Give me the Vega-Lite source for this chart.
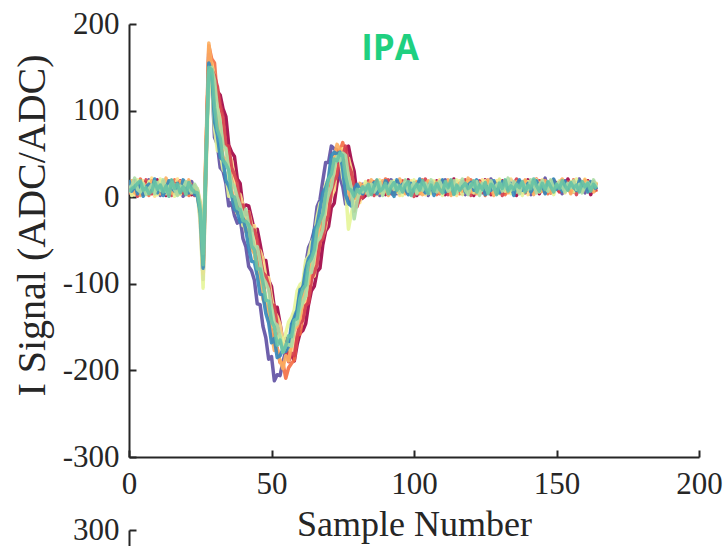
{
"$schema":"https://vega.github.io/schema/vega-lite/v6.json",
"padding":{"left":11,"top":8,"right":0,"bottom":0},
"bounds":"flush",
"spacing":73,
"config":{"view":{"stroke":null},"font":"Liberation Serif",
"axis":{"labelFont":"Liberation Serif","titleFont":"Liberation Serif","labelFontSize":31,"titleFontWeight":"normal","labelColor":"#262626","titleColor":"#262626","domainColor":"#262626","domainWidth":2,"tickColor":"#262626","tickWidth":2,"tickSize":-7,"grid":false,"labelFlush":false,"labelOverlap":false,"labelExpr":"replace(datum.label, '\u2212', '-')"}},
"vconcat":[
{"width":570,"height":433,
"layer":[
{"data":{"values":[
{"x":0,"a":12,"b":5,"c":18,"d":9,"e":3,"f":14,"g":8,"h":20,"i":11,"j":6},
{"x":1,"a":8,"b":15,"c":4,"d":17,"e":12,"f":2,"g":19,"h":7,"i":13,"j":10},
{"x":2,"a":19,"b":9,"c":11,"d":3,"e":16,"f":8,"g":5,"h":14,"i":22,"j":12},
{"x":3,"a":6,"b":18,"c":14,"d":11,"e":1,"f":20,"g":13,"h":4,"i":9,"j":16},
{"x":4,"a":14,"b":3,"c":21,"d":8,"e":13,"f":10,"g":2,"h":17,"i":6,"j":19},
{"x":5,"a":3,"b":12,"c":7,"d":19,"e":9,"f":16,"g":11,"h":1,"i":15,"j":8},
{"x":6,"a":17,"b":8,"c":10,"d":5,"e":20,"f":4,"g":14,"h":12,"i":3,"j":11},
{"x":7,"a":9,"b":20,"c":2,"d":13,"e":7,"f":18,"g":6,"h":15,"i":10,"j":4},
{"x":8,"a":11,"b":6,"c":16,"d":22,"e":4,"f":12,"g":19,"h":8,"i":14,"j":7},
{"x":9,"a":5,"b":14,"c":9,"d":1,"e":15,"f":7,"g":10,"h":21,"i":4,"j":18},
{"x":10,"a":20,"b":10,"c":13,"d":7,"e":11,"f":3,"g":16,"h":5,"i":17,"j":9},
{"x":11,"a":7,"b":2,"c":19,"d":15,"e":6,"f":21,"g":4,"h":13,"i":8,"j":14},
{"x":12,"a":13,"b":17,"c":5,"d":10,"e":18,"f":9,"g":12,"h":2,"i":20,"j":6},
{"x":13,"a":2,"b":11,"c":15,"d":4,"e":8,"f":14,"g":22,"h":10,"i":7,"j":13},
{"x":14,"a":16,"b":7,"c":3,"d":18,"e":14,"f":6,"g":9,"h":19,"i":12,"j":1},
{"x":15,"a":10,"b":19,"c":12,"d":6,"e":2,"f":17,"g":5,"h":11,"i":16,"j":20},
{"x":16,"a":4,"b":13,"c":20,"d":12,"e":16,"f":1,"g":15,"h":7,"i":9,"j":10},
{"x":17,"a":18,"b":5,"c":8,"d":21,"e":10,"f":13,"g":3,"h":16,"i":2,"j":15},
{"x":18,"a":8,"b":16,"c":14,"d":3,"e":19,"f":10,"g":18,"h":6,"i":13,"j":5},
{"x":19,"a":15,"b":1,"c":6,"d":14,"e":5,"f":19,"g":11,"h":20,"i":10,"j":12},
{"x":20,"a":6,"b":12,"c":17,"d":9,"e":13,"f":4,"g":7,"h":14,"i":18,"j":3},
{"x":21,"a":12,"b":9,"c":2,"d":16,"e":7,"f":15,"g":20,"h":5,"i":11,"j":17},
{"x":22,"a":3,"b":18,"c":10,"d":7,"e":14,"f":11,"g":8,"h":13,"i":5,"j":9},
{"x":23,"a":9,"b":4,"c":13,"d":11,"e":2,"f":8,"g":12,"h":3,"i":15,"j":6},
{"x":24,"a":4,"b":8,"c":2,"d":10,"e":6,"f":3,"g":7,"h":1,"i":9,"j":5},
{"x":25,"a":-12,"b":-25,"c":-15,"d":-5,"e":-20,"f":-30,"g":-10,"h":-18,"i":-8,"j":-15},
{"x":26,"a":-85,"b":-95,"c":-80,"d":-70,"e":-88,"f":-105,"g":-75,"h":-82,"i":-65,"j":-78},
{"x":27,"a":50,"b":30,"c":45,"d":60,"e":35,"f":20,"g":55,"h":40,"i":45,"j":38},
{"x":28,"a":160,"b":170,"c":175,"d":150,"e":165,"f":140,"g":178,"h":155,"i":145,"j":150},
{"x":29,"a":150,"b":140,"c":160,"d":155,"e":148,"f":130,"g":150,"h":145,"i":150,"j":147},
{"x":30,"a":140,"b":69,"c":155,"d":138,"e":140,"f":80,"g":104,"h":87,"i":135,"j":104},
{"x":31,"a":122,"b":61,"c":114,"d":125,"e":128,"f":54,"g":93,"h":72,"i":103,"j":78},
{"x":32,"a":118,"b":34,"c":102,"d":98,"e":107,"f":52,"g":70,"h":46,"i":87,"j":68},
{"x":33,"a":102,"b":30,"c":66,"d":86,"e":93,"f":32,"g":46,"h":43,"i":60,"j":43},
{"x":34,"a":93,"b":16,"c":58,"d":54,"e":60,"f":27,"g":45,"h":19,"i":56,"j":38},
{"x":35,"a":60,"b":-10,"c":43,"d":51,"e":59,"f":1,"g":34,"h":13,"i":32,"j":31},
{"x":36,"a":52,"b":-6,"c":21,"d":42,"e":34,"f":1,"g":8,"h":3,"i":17,"j":2},
{"x":37,"a":47,"b":-21,"c":15,"d":23,"e":26,"f":-10,"g":-4,"h":-14,"i":12,"j":0},
{"x":38,"a":21,"b":-30,"c":0,"d":5,"e":17,"f":-19,"g":-18,"h":-17,"i":0,"j":-13},
{"x":39,"a":16,"b":-24,"c":-16,"d":3,"e":-11,"f":-15,"g":-13,"h":-29,"i":-10,"j":-14},
{"x":40,"a":-12,"b":-48,"c":-28,"d":-9,"e":-9,"f":-33,"g":-20,"h":-24,"i":-23,"j":-27},
{"x":41,"a":-9,"b":-57,"c":-22,"d":-23,"e":-20,"f":-30,"g":-40,"h":-38,"i":-14,"j":-28},
{"x":42,"a":-10,"b":-80,"c":-28,"d":-17,"e":-17,"f":-54,"g":-37,"h":-58,"i":-32,"j":-32},
{"x":43,"a":-24,"b":-85,"c":-50,"d":-32,"e":-38,"f":-57,"g":-60,"h":-74,"i":-36,"j":-56},
{"x":44,"a":-39,"b":-96,"c":-54,"d":-33,"e":-38,"f":-65,"g":-65,"h":-75,"i":-60,"j":-61},
{"x":45,"a":-37,"b":-123,"c":-74,"d":-59,"e":-49,"f":-85,"g":-88,"h":-91,"i":-57,"j":-83},
{"x":46,"a":-54,"b":-124,"c":-93,"d":-62,"e":-69,"f":-101,"g":-89,"h":-112,"i":-74,"j":-83},
{"x":47,"a":-72,"b":-149,"c":-93,"d":-71,"e":-87,"f":-105,"g":-118,"h":-113,"i":-93,"j":-99},
{"x":48,"a":-73,"b":-162,"c":-121,"d":-92,"e":-91,"f":-114,"g":-124,"h":-134,"i":-99,"j":-119},
{"x":49,"a":-96,"b":-187,"c":-130,"d":-93,"e":-102,"f":-140,"g":-135,"h":-145,"i":-107,"j":-120},
{"x":50,"a":-103,"b":-184,"c":-140,"d":-116,"e":-124,"f":-144,"g":-158,"h":-168,"i":-127,"j":-143},
{"x":51,"a":-128,"b":-212,"c":-170,"d":-132,"e":-125,"f":-151,"g":-177,"h":-163,"i":-145,"j":-150},
{"x":52,"a":-127,"b":-205,"c":-174,"d":-138,"e":-149,"f":-166,"g":-175,"h":-185,"i":-148,"j":-171},
{"x":53,"a":-146,"b":-206,"c":-191,"d":-147,"e":-168,"f":-159,"g":-189,"h":-183,"i":-161,"j":-165},
{"x":54,"a":-167,"b":-190,"c":-191,"d":-168,"e":-169,"f":-170,"g":-198,"h":-176,"i":-179,"j":-179},
{"x":55,"a":-163,"b":-178,"c":-209,"d":-170,"e":-174,"f":-157,"g":-183,"h":-178,"i":-171,"j":-172},
{"x":56,"a":-185,"b":-175,"c":-197,"d":-172,"e":-190,"f":-144,"g":-189,"h":-172,"i":-170,"j":-160},
{"x":57,"a":-182,"b":-152,"c":-192,"d":-181,"e":-180,"f":-139,"g":-170,"h":-147,"i":-172,"j":-161},
{"x":58,"a":-189,"b":-135,"c":-188,"d":-160,"e":-183,"f":-130,"g":-153,"h":-139,"i":-149,"j":-142},
{"x":59,"a":-170,"b":-131,"c":-160,"d":-158,"e":-161,"f":-108,"g":-149,"h":-130,"i":-146,"j":-140},
{"x":60,"a":-157,"b":-105,"c":-158,"d":-147,"e":-146,"f":-101,"g":-140,"h":-107,"i":-129,"j":-117},
{"x":61,"a":-154,"b":-104,"c":-139,"d":-128,"e":-142,"f":-98,"g":-117,"h":-105,"i":-121,"j":-106},
{"x":62,"a":-146,"b":-78,"c":-122,"d":-114,"e":-125,"f":-73,"g":-103,"h":-84,"i":-114,"j":-101},
{"x":63,"a":-124,"b":-58,"c":-118,"d":-113,"e":-122,"f":-68,"g":-100,"h":-71,"i":-88,"j":-76},
{"x":64,"a":-108,"b":-51,"c":-94,"d":-93,"e":-95,"f":-52,"g":-73,"h":-66,"i":-87,"j":-71},
{"x":65,"a":-103,"b":-38,"c":-75,"d":-91,"e":-87,"f":-46,"g":-62,"h":-38,"i":-68,"j":-61},
{"x":66,"a":-86,"b":-11,"c":-68,"d":-67,"e":-78,"f":-23,"g":-50,"h":-32,"i":-51,"j":-37},
{"x":67,"a":-82,"b":-3,"c":-55,"d":-51,"e":-52,"f":-7,"g":-26,"h":-14,"i":-47,"j":-27},
{"x":68,"a":-55,"b":19,"c":-29,"d":-45,"e":-48,"f":-3,"g":-20,"h":5,"i":-37,"j":-19},
{"x":69,"a":-39,"b":40,"c":-10,"d":-34,"e":-28,"f":15,"g":7,"h":11,"i":-9,"j":3},
{"x":70,"a":-34,"b":40,"c":-3,"d":-10,"e":-21,"f":21,"g":18,"h":22,"i":3,"j":21},
{"x":71,"a":-12,"b":59,"c":18,"d":1,"e":7,"f":43,"g":27,"h":48,"i":12,"j":27},
{"x":72,"a":-7,"b":56,"c":27,"d":8,"e":19,"f":47,"g":47,"h":52,"i":33,"j":44},
{"x":73,"a":16,"b":55,"c":54,"d":36,"e":25,"f":44,"g":61,"h":50,"i":47,"j":42},
{"x":74,"a":38,"b":23,"c":53,"d":37,"e":45,"f":49,"g":55,"h":52,"i":42,"j":51},
{"x":75,"a":37,"b":12,"c":63,"d":56,"e":48,"f":23,"g":41,"h":32,"i":51,"j":48},
{"x":76,"a":54,"b":-8,"c":46,"d":46,"e":59,"f":10,"g":33,"h":3,"i":48,"j":24},
{"x":77,"a":59,"b":-8,"c":34,"d":45,"e":37,"f":-37,"g":6,"h":-7,"i":24,"j":10},
{"x":78,"a":42,"b":13,"c":15,"d":32,"e":29,"f":-19,"g":-3,"h":-10,"i":10,"j":8},
{"x":79,"a":30,"b":7,"c":-16,"d":2,"e":13,"f":-4,"g":-1,"h":9,"i":-25,"j":1},
{"x":80,"a":2,"b":12,"c":-2,"d":-5,"e":-11,"f":4,"g":-1,"h":15,"i":-6,"j":9},
{"x":81,"a":-3,"b":6,"c":10,"d":-6,"e":0,"f":11,"g":16,"h":9,"i":9,"j":5},
{"x":82,"a":-1,"b":15,"c":5,"d":10,"e":0,"f":7,"g":13,"h":4,"i":6,"j":12},
{"x":83,"a":2,"b":9,"c":14,"d":16,"e":12,"f":18,"g":5,"h":11,"i":13,"j":8},
{"x":84,"a":17,"b":3,"c":8,"d":12,"e":19,"f":10,"g":14,"h":6,"i":2,"j":15},
{"x":85,"a":11,"b":16,"c":4,"d":9,"e":13,"f":7,"g":20,"h":10,"i":15,"j":3},
{"x":86,"a":5,"b":9,"c":18,"d":14,"e":2,"f":12,"g":8,"h":17,"i":6,"j":13},
{"x":87,"a":19,"b":13,"c":7,"d":3,"e":16,"f":10,"g":14,"h":4,"i":11,"j":20},
{"x":88,"a":8,"b":2,"c":15,"d":20,"e":9,"f":18,"g":5,"h":12,"i":17,"j":7},
{"x":89,"a":14,"b":17,"c":11,"d":6,"e":12,"f":3,"g":19,"h":8,"i":2,"j":10},
{"x":90,"a":3,"b":10,"c":21,"d":12,"e":7,"f":15,"g":9,"h":19,"i":13,"j":16},
{"x":91,"a":16,"b":6,"c":5,"d":17,"e":20,"f":8,"g":2,"h":14,"i":10,"j":4},
{"x":92,"a":10,"b":20,"c":13,"d":8,"e":4,"f":11,"g":16,"h":6,"i":18,"j":12},
{"x":93,"a":7,"b":12,"c":3,"d":15,"e":11,"f":19,"g":13,"h":1,"i":9,"j":17},
{"x":94,"a":18,"b":4,"c":16,"d":10,"e":15,"f":6,"g":7,"h":20,"i":14,"j":8},
{"x":95,"a":4,"b":15,"c":9,"d":2,"e":8,"f":14,"g":21,"h":11,"i":5,"j":13},
{"x":96,"a":13,"b":8,"c":19,"d":16,"e":18,"f":2,"g":10,"h":15,"i":12,"j":6},
{"x":97,"a":9,"b":19,"c":6,"d":11,"e":5,"f":17,"g":4,"h":9,"i":20,"j":14},
{"x":98,"a":20,"b":11,"c":12,"d":5,"e":14,"f":9,"g":15,"h":3,"i":7,"j":18},
{"x":99,"a":6,"b":3,"c":17,"d":19,"e":10,"f":13,"g":8,"h":16,"i":11,"j":2},
{"x":100,"a":15,"b":14,"c":8,"d":13,"e":1,"f":20,"g":11,"h":7,"i":17,"j":10},
{"x":101,"a":2,"b":9,"c":14,"d":7,"e":17,"f":5,"g":18,"h":12,"i":4,"j":15},
{"x":102,"a":12,"b":18,"c":4,"d":16,"e":9,"f":11,"g":6,"h":21,"i":14,"j":8},
{"x":103,"a":17,"b":7,"c":20,"d":9,"e":13,"f":16,"g":3,"h":10,"i":8,"j":19},
{"x":104,"a":8,"b":13,"c":11,"d":3,"e":21,"f":7,"g":14,"h":5,"i":16,"j":11},
{"x":105,"a":14,"b":2,"c":16,"d":18,"e":6,"f":12,"g":19,"h":13,"i":9,"j":4},
{"x":106,"a":5,"b":16,"c":7,"d":12,"e":11,"f":4,"g":9,"h":17,"i":20,"j":14},
{"x":107,"a":11,"b":10,"c":18,"d":6,"e":16,"f":19,"g":13,"h":2,"i":12,"j":7},
{"x":108,"a":19,"b":5,"c":3,"d":14,"e":8,"f":10,"g":17,"h":11,"i":6,"j":16},
{"x":109,"a":7,"b":17,"c":13,"d":20,"e":4,"f":15,"g":5,"h":14,"i":18,"j":9},
{"x":110,"a":13,"b":8,"c":10,"d":4,"e":19,"f":2,"g":12,"h":20,"i":11,"j":5},
{"x":111,"a":3,"b":20,"c":15,"d":11,"e":12,"f":17,"g":8,"h":6,"i":14,"j":18},
{"x":112,"a":16,"b":12,"c":6,"d":17,"e":3,"f":9,"g":20,"h":13,"i":7,"j":11},
{"x":113,"a":10,"b":4,"c":19,"d":8,"e":15,"f":13,"g":2,"h":16,"i":10,"j":20},
{"x":114,"a":21,"b":14,"c":9,"d":13,"e":10,"f":6,"g":15,"h":4,"i":19,"j":3},
{"x":115,"a":6,"b":9,"c":14,"d":2,"e":18,"f":20,"g":11,"h":12,"i":5,"j":14},
{"x":116,"a":12,"b":16,"c":4,"d":19,"e":7,"f":11,"g":16,"h":9,"i":13,"j":8},
{"x":117,"a":4,"b":11,"c":17,"d":10,"e":13,"f":3,"g":7,"h":18,"i":21,"j":12},
{"x":118,"a":18,"b":3,"c":12,"d":15,"e":20,"f":14,"g":10,"h":6,"i":8,"j":16},
{"x":119,"a":9,"b":19,"c":8,"d":5,"e":11,"f":18,"g":22,"h":14,"i":3,"j":10},
{"x":120,"a":14,"b":7,"c":20,"d":12,"e":2,"f":9,"g":6,"h":17,"i":15,"j":13},
{"x":121,"a":2,"b":13,"c":11,"d":18,"e":16,"f":5,"g":13,"h":8,"i":12,"j":19},
{"x":122,"a":17,"b":10,"c":5,"d":9,"e":12,"f":16,"g":4,"h":20,"i":18,"j":6},
{"x":123,"a":11,"b":18,"c":15,"d":3,"e":19,"f":12,"g":17,"h":10,"i":2,"j":14},
{"x":124,"a":7,"b":5,"c":13,"d":20,"e":6,"f":8,"g":11,"h":15,"i":16,"j":9},
{"x":125,"a":20,"b":15,"c":2,"d":14,"e":10,"f":19,"g":9,"h":3,"i":13,"j":17},
{"x":126,"a":10,"b":8,"c":18,"d":7,"e":15,"f":13,"g":20,"h":12,"i":6,"j":4},
{"x":127,"a":3,"b":21,"c":10,"d":16,"e":4,"f":11,"g":14,"h":8,"i":19,"j":15},
{"x":128,"a":16,"b":12,"c":14,"d":10,"e":17,"f":6,"g":2,"h":19,"i":10,"j":12},
{"x":129,"a":8,"b":4,"c":7,"d":19,"e":9,"f":15,"g":16,"h":11,"i":14,"j":3},
{"x":130,"a":13,"b":17,"c":20,"d":4,"e":14,"f":21,"g":8,"h":5,"i":17,"j":16},
{"x":131,"a":19,"b":9,"c":11,"d":13,"e":2,"f":10,"g":12,"h":18,"i":7,"j":10},
{"x":132,"a":5,"b":14,"c":3,"d":16,"e":18,"f":7,"g":19,"h":13,"i":11,"j":20},
{"x":133,"a":12,"b":6,"c":16,"d":8,"e":12,"f":17,"g":5,"h":9,"i":22,"j":7},
{"x":134,"a":9,"b":20,"c":12,"d":21,"e":7,"f":4,"g":15,"h":16,"i":8,"j":13},
{"x":135,"a":15,"b":11,"c":8,"d":11,"e":15,"f":13,"g":10,"h":2,"i":18,"j":9},
{"x":136,"a":2,"b":18,"c":17,"d":6,"e":21,"f":10,"g":18,"h":14,"i":12,"j":15},
{"x":137,"a":18,"b":7,"c":13,"d":15,"e":9,"f":16,"g":6,"h":20,"i":4,"j":11},
{"x":138,"a":11,"b":13,"c":5,"d":10,"e":14,"f":2,"g":13,"h":8,"i":16,"j":18},
{"x":139,"a":6,"b":16,"c":19,"d":18,"e":5,"f":12,"g":20,"h":11,"i":13,"j":6},
{"x":140,"a":20,"b":10,"c":10,"d":3,"e":17,"f":18,"g":9,"h":16,"i":9,"j":14},
{"x":141,"a":14,"b":3,"c":15,"d":13,"e":11,"f":8,"g":14,"h":6,"i":20,"j":10},
{"x":142,"a":8,"b":19,"c":6,"d":17,"e":16,"f":14,"g":3,"h":12,"i":15,"j":21},
{"x":143,"a":17,"b":12,"c":21,"d":9,"e":8,"f":20,"g":11,"h":19,"i":5,"j":13},
{"x":144,"a":4,"b":8,"c":12,"d":14,"e":19,"f":6,"g":17,"h":10,"i":14,"j":7},
{"x":145,"a":13,"b":15,"c":8,"d":20,"e":12,"f":11,"g":7,"h":15,"i":19,"j":16},
{"x":146,"a":10,"b":22,"c":16,"d":6,"e":5,"f":15,"g":19,"h":4,"i":11,"j":9},
{"x":147,"a":16,"b":9,"c":4,"d":12,"e":16,"f":9,"g":12,"h":17,"i":7,"j":18},
{"x":148,"a":5,"b":14,"c":19,"d":17,"e":10,"f":16,"g":5,"h":13,"i":20,"j":12},
{"x":149,"a":19,"b":6,"c":11,"d":8,"e":20,"f":3,"g":14,"h":21,"i":10,"j":6},
{"x":150,"a":11,"b":17,"c":14,"d":15,"e":13,"f":13,"g":10,"h":9,"i":13,"j":15},
{"x":151,"a":7,"b":11,"c":7,"d":11,"e":6,"f":19,"g":16,"h":14,"i":17,"j":10},
{"x":152,"a":15,"b":4,"c":17,"d":19,"e":15,"f":8,"g":21,"h":7,"i":12,"j":19},
{"x":153,"a":9,"b":19,"c":10,"d":5,"e":11,"f":15,"g":8,"h":18,"i":6,"j":13},
{"x":154,"a":21,"b":13,"c":15,"d":13,"e":18,"f":11,"g":13,"h":10,"i":16,"j":8},
{"x":155,"a":12,"b":7,"c":5,"d":18,"e":8,"f":17,"g":4,"h":15,"i":11,"j":17},
{"x":156,"a":6,"b":16,"c":20,"d":10,"e":14,"f":6,"g":18,"h":12,"i":19,"j":11},
{"x":157,"a":17,"b":10,"c":12,"d":16,"e":3,"f":21,"g":11,"h":8,"i":9,"j":14},
{"x":158,"a":8,"b":21,"c":9,"d":7,"e":19,"f":13,"g":16,"h":19,"i":15,"j":6},
{"x":159,"a":14,"b":12,"c":16,"d":14,"e":11,"f":8,"g":7,"h":11,"i":5,"j":18},
{"x":160,"a":10,"b":5,"c":11,"d":21,"e":16,"f":18,"g":20,"h":14,"i":13,"j":12},
{"x":161,"a":19,"b":15,"c":18,"d":6,"e":9,"f":12,"g":10,"h":6,"i":17,"j":16},
{"x":162,"a":3,"b":10,"c":8,"d":15,"e":17,"f":15,"g":15,"h":18,"i":10,"j":7},
{"x":163,"a":13,"b":18,"c":14,"d":11,"e":12,"f":9,"g":6,"h":13,"i":20,"j":15},
{"x":164,"a":16,"b":9,"c":6,"d":18,"e":7,"f":14,"g":17,"h":9,"i":12,"j":10}
]},
"transform":[{"fold":["a","b","c","d","e","f","g","h","i","j"],"as":["trace","v"]}],
"mark":{"type":"line","strokeWidth":3.5,"opacity":0.9,"strokeJoin":"round","clip":true},
"encoding":{
"x":{"field":"x","type":"quantitative","scale":{"domain":[0,200],"nice":false},
"axis":{"values":[0,50,100,150,200],"title":"Sample Number","titleFontSize":36,"labelBaseline":"alphabetic","labelPadding":43,"titleBaseline":"alphabetic","titleY":78}},
"y":{"field":"v","type":"quantitative","scale":{"domain":[-300,200],"nice":false,"zero":false},
"axis":{"values":[-300,-200,-100,0,100,200],"title":"I Signal (ADC/ADC)","titleFontSize":40,"labelPadding":17,"titleAngle":-90,"titleX":-97,"titleY":201,"titleAlign":"center","titleBaseline":"middle"}},
"color":{"field":"trace","type":"nominal","legend":null,"scale":{"domain":["a","b","c","d","e","f","g","h","i","j"],"range":["#9e0142","#5e4fa2","#f46d43","#fee08b","#d53e4f","#e6f598","#fdae61","#3288bd","#abdda4","#66c2a5"]}}
}},
{"data":{"values":[{"label":"IPA"}]},
"mark":{"type":"text","font":"Open Sans","fontWeight":"bold","fontSize":35,"color":"#1fd080","align":"center","baseline":"alphabetic"},
"encoding":{"x":{"datum":91.6},"y":{"datum":158},"text":{"field":"label"}}}
]},
{"width":570,"height":433,
"data":{"values":[{"v":300}]},
"mark":{"type":"point","opacity":0},
"encoding":{"y":{"field":"v","type":"quantitative","scale":{"domain":[-300,300],"nice":false},
"axis":{"values":[300],"title":null,"labelPadding":17}}}}
]}
